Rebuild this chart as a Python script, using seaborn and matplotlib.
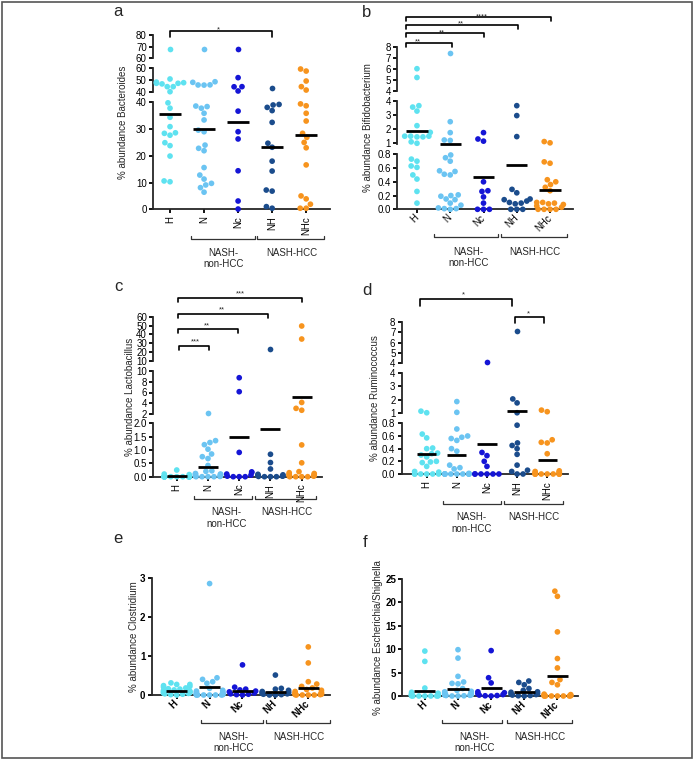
import numpy as np
import pandas as pd
import matplotlib
matplotlib.use("Agg")
import matplotlib.pyplot as plt
import seaborn as sns
from matplotlib.transforms import blended_transform_factory
from matplotlib.patches import Rectangle
import warnings

warnings.filterwarnings("ignore")

# -------------------------------
# DATA
# -------------------------------
groups = ["H", "N", "Nc", "NH", "NHc"]
colors = ["#5EE2F0", "#6BC4F2", "#1515D6", "#1B4C8C", "#F7941E"]

# a - Bacteroides
bac_H = [67.9, 51.1, 48.5, 47.5, 47.0, 47.5, 48.0, 44.7, 44.7, 40.5, 39.8, 37.8, 34.4,
         30.9, 28.4, 28.6, 27.7, 24.9, 23.8, 19.9, 10.3, 10.6]
bac_N = [67.9, 48.3, 48.8, 46.1, 46.0, 46.2, 38.6, 38.4, 37.8, 35.9, 33.4, 29.6, 29.0,
         24.0, 22.8, 21.9, 15.6, 12.8, 11.3, 9.7, 9.1, 8.1, 6.4]
bac_Nc = [68.3, 52.2, 44.7, 44.6, 41.1, 36.7, 29.0, 26.3, 14.4, 3.1, 0.1]
bac_NH = [43.3, 39.2, 39.0, 38.1, 36.9, 32.5, 24.7, 23.2, 18.0, 14.3, 6.8, 7.2, 1.0, 0.4]
bac_NHc = [59.4, 57.7, 49.4, 44.7, 41.9, 39.4, 38.7, 35.9, 33.0, 28.4, 26.9, 25.0, 23.0,
           16.6, 5.0, 3.9, 1.9, 0.4, 0.4]
bac_means = [35.6, 29.9, 32.7, 23.2, 27.9]

# b - Bifidobacterium
bif_H = [6.0, 5.2, 3.65, 3.55, 3.27, 2.24, 1.77, 1.5, 1.45, 1.5, 1.45, 1.5, 1.1, 1.0,
         0.73, 0.70, 0.63, 0.61, 0.50, 0.44, 0.26, 0.09]
bif_N = [7.4, 2.52, 1.75, 1.23, 1.2, 0.79, 0.75, 0.70, 0.56, 0.55, 0.51, 0.50, 0.21,
         0.20, 0.19, 0.15, 0.14, 0.09, 0.06, 0.02, 0.01, 0.01, 0.0]
bif_Nc = [1.75, 1.30, 1.15, 0.40, 0.27, 0.26, 0.18, 0.09, 0.0, 0.0, 0.0]
bif_NH = [3.65, 2.95, 1.47, 0.29, 0.24, 0.15, 0.14, 0.12, 0.10, 0.09, 0.08, 0.0, 0.0, 0.0]
bif_NHc = [1.12, 1.03, 0.69, 0.67, 0.43, 0.40, 0.36, 0.32, 0.27, 0.10, 0.10, 0.09, 0.08,
           0.07, 0.05, 0.03, 0.0, 0.0, 0.0, 0.0]
bif_means = [1.85, 0.95, 0.47, 0.64, 0.28]

# c - Lactobacillus
lac_H = [0.25, 0.10, 0.08, 0.0, 0.0, 0.0, 0.0, 0.0, 0.0, 0.0, 0.0, 0.0, 0.0, 0.0, 0.0,
         0.0, 0.0, 0.0, 0.0, 0.0, 0.0, 0.0]
lac_N = [2.25, 1.35, 1.28, 1.2, 1.03, 0.85, 0.75, 0.68, 0.42, 0.22, 0.2, 0.12, 0.1, 0.1,
         0.08, 0.05, 0.03, 0.02, 0.01, 0.0, 0.0, 0.0, 0.0]
lac_Nc = [8.75, 6.15, 0.91, 0.18, 0.16, 0.10, 0.06, 0.02, 0.0, 0.0, 0.0]
lac_NH = [23.2, 0.84, 0.53, 0.29, 0.09, 0.07, 0.05, 0.04, 0.03, 0.02, 0.01, 0.0, 0.0, 0.0]
lac_NHc = [49.5, 34.8, 4.15, 3.05, 2.7, 1.19, 0.52, 0.19, 0.15, 0.12, 0.10, 0.08, 0.06,
           0.04, 0.03, 0.02, 0.0, 0.0, 0.0, 0.0]
lac_means = [0.03, 0.37, 1.47, 1.78, 5.1]

# d - Ruminococcus
rum_H = [1.12, 1.0, 0.63, 0.57, 0.41, 0.40, 0.33, 0.32, 0.30, 0.27, 0.20, 0.19, 0.18,
         0.12, 0.04, 0.03, 0.0, 0.0, 0.0, 0.0, 0.0, 0.0]
rum_N = [1.85, 1.03, 0.71, 0.60, 0.58, 0.56, 0.53, 0.40, 0.36, 0.14, 0.10, 0.08, 0.01,
         0.0, 0.0, 0.0, 0.0, 0.0, 0.0, 0.0, 0.0, 0.0, 0.0]
rum_Nc = [4.15, 0.34, 0.29, 0.20, 0.12, 0.0, 0.0, 0.0, 0.0, 0.0, 0.0]
rum_NH = [7.1, 2.05, 1.75, 1.0, 0.77, 0.49, 0.45, 0.40, 0.31, 0.14, 0.06, 0.04, 0.0, 0.0]
rum_NHc = [1.2, 1.08, 0.54, 0.50, 0.49, 0.32, 0.05, 0.04, 0.03, 0.03, 0.02, 0.0, 0.0,
           0.0, 0.0, 0.0, 0.0, 0.0, 0.0, 0.0]
rum_means = [0.31, 0.30, 0.47, 1.12, 0.22]

# e - Clostridium
clo_H = [0.31, 0.27, 0.27, 0.24, 0.22, 0.20, 0.18, 0.16, 0.15, 0.13, 0.12, 0.10, 0.09,
         0.08, 0.07, 0.06, 0.05, 0.04, 0.03, 0.02, 0.01, 0.0]
clo_N = [2.85, 0.44, 0.40, 0.34, 0.30, 0.17, 0.12, 0.10, 0.08, 0.07, 0.05, 0.04, 0.03,
         0.02, 0.02, 0.01, 0.01, 0.0, 0.0, 0.0, 0.0, 0.0, 0.0]
clo_Nc = [0.77, 0.20, 0.15, 0.13, 0.10, 0.08, 0.05, 0.03, 0.02, 0.01, 0.0]
clo_NH = [0.51, 0.17, 0.15, 0.12, 0.09, 0.08, 0.06, 0.05, 0.04, 0.03, 0.02, 0.01, 0.0, 0.0]
clo_NHc = [1.23, 0.82, 0.34, 0.28, 0.22, 0.18, 0.14, 0.12, 0.09, 0.07, 0.05, 0.04, 0.03,
           0.02, 0.01, 0.01, 0.0, 0.0, 0.0, 0.0]
clo_means = [0.09, 0.21, 0.11, 0.07, 0.19]

# f - Escherichia/Shighella
esc_H = [9.6, 7.4, 1.7, 0.8, 0.6, 0.5, 0.4, 0.35, 0.3, 0.25, 0.2, 0.2, 0.15, 0.1, 0.1,
         0.05, 0.05, 0.0, 0.0, 0.0, 0.0, 0.0]
esc_N = [9.9, 8.1, 4.2, 3.0, 2.7, 2.6, 1.6, 1.2, 1.0, 0.9, 0.8, 0.7, 0.6, 0.5, 0.4, 0.3,
         0.25, 0.2, 0.15, 0.1, 0.05, 0.0, 0.0]
esc_Nc = [9.7, 3.9, 2.8, 0.9, 0.7, 0.5, 0.3, 0.2, 0.1, 0.05, 0.0]
esc_NH = [3.2, 2.9, 2.4, 1.6, 1.2, 0.9, 0.8, 0.5, 0.4, 0.3, 0.2, 0.1, 0.05, 0.0]
esc_NHc = [22.4, 21.3, 13.7, 8.0, 6.0, 3.5, 2.9, 2.4, 0.4, 0.3, 0.2, 0.15, 0.1, 0.05,
           0.0, 0.0, 0.0, 0.0, 0.0, 0.0]
esc_means = [1.1, 1.5, 1.7, 0.75, 4.34]

# -------------------------------
# LAYOUT (pixel units)
# -------------------------------
W, H = 694, 760
sns.set_theme(style="ticks")
plt.rcParams["font.family"] = ["Liberation Sans", "DejaVu Sans"]
plt.rcParams["axes.linewidth"] = 1.3

palette = dict(zip(groups, colors))
fig = plt.figure(figsize=(W / 100, H / 100), dpi=100)


def fy(py):
    return 1 - py / H


def px_rect(x0, x1, ytop, ybot):
    return [x0 / W, 1 - ybot / H, (x1 - x0) / W, (ybot - ytop) / H]


def seg_of(v, segs):
    k = 0
    for i in range(1, len(segs)):
        if v > segs[i - 1][3]:
            k = i
    return k


def draw_panel(values, means, x0, x1, xlim, segs, rot, bold):
    df = pd.concat([pd.DataFrame({"group": g, "value": v}) for g, v in zip(groups, values)],
                   ignore_index=True)
    idx = np.array([seg_of(v, segs) for v in df["value"]])
    weight = "bold" if bold else "normal"
    axes = []
    for k, (ytop, ybot, lo, hi, ticks, labels) in enumerate(segs):
        ax = fig.add_axes(px_rect(x0, x1, ytop, ybot))
        sub = df[idx == k]
        sns.swarmplot(data=sub, x="group", y="value", hue="group", order=groups,
                      hue_order=groups, palette=palette, size=4.1, legend=False,
                      clip_on=False, zorder=3, ax=ax)
        for i, m in enumerate(means):
            if seg_of(m, segs) == k:
                ax.hlines(m, i - 0.32, i + 0.32, colors="black", lw=2.0, zorder=5,
                          clip_on=False)
        ax.set_xlim(xlim)
        ax.set_ylim(lo, hi)
        ax.set_yticks(ticks)
        ax.set_yticklabels(labels, fontsize=7, fontweight=weight)
        ax.set_xlabel("")
        ax.set_ylabel("")
        ax.patch.set_visible(False)
        ax.tick_params(axis="y", length=3, width=1.3, pad=1.5, colors="black")
        sns.despine(ax=ax, bottom=(k > 0))
        if k > 0:
            ax.tick_params(axis="x", bottom=False, labelbottom=False)
        else:
            ax.set_xticks(range(len(groups)))
            if rot == 90:
                ax.set_xticklabels(groups, rotation=90, fontsize=7, fontweight=weight)
            else:
                ax.set_xticklabels(groups, rotation=45, ha="right", va="center",
                                   rotation_mode="anchor", fontsize=7, fontweight=weight)
            ax.tick_params(axis="x", length=3, width=1.3, pad=2, colors="black")
        axes.append(ax)
    return axes[0]


def sig(ax, xa, xb, py, drop, label, tx, ty):
    tr = blended_transform_factory(ax.transData, fig.transFigure)
    ax.plot([xa, xa, xb, xb], [fy(py + drop), fy(py), fy(py), fy(py + drop)],
            color="black", lw=1.2, transform=tr, clip_on=False)
    ax.text(tx, fy(ty + 4), label, transform=tr, ha="center", va="baseline", fontsize=5.5)


def grouping(ax, spans, py, label_x, ly1, ly2):
    tr = blended_transform_factory(ax.transData, fig.transFigure)
    for xa, xb in spans:
        ax.plot([xa, xa, xb, xb], [fy(py - 3), fy(py), fy(py), fy(py - 3)],
                color="#333333", lw=0.9, transform=tr, clip_on=False)
    ax.text(label_x[0], fy(ly1), "NASH-", transform=tr, ha="center", va="center", fontsize=7)
    ax.text(label_x[0], fy(ly2), "non-HCC", transform=tr, ha="center", va="center", fontsize=7)
    ax.text(label_x[1], fy(ly1), "NASH-HCC", transform=tr, ha="center", va="center", fontsize=7)


# a
ax = draw_panel([bac_H, bac_N, bac_Nc, bac_NH, bac_NHc], bac_means, 153, 330, (-0.5, 4.7),
                [(102.3, 209.3, 0, 40, [0, 10, 20, 30, 40], ["0", "10", "20", "30", "40"]),
                 (68.3, 92.3, 40, 60, [40, 50, 60], ["40", "50", "60"]),
                 (35, 58.3, 60, 80, [60, 70, 80], ["60", "70", "80"])], 90, False)
sig(ax, 0, 3, 31, 6, "*", 1.42, 27.7)
grouping(ax, [(0.61, 2.5), (2.57, 4.53)], 239.3, (1.57, 3.58), 252.5, 264.5)

# b
ax = draw_panel([bif_H, bif_N, bif_Nc, bif_NH, bif_NHc], bif_means, 397, 573, (-0.6, 4.69),
                [(154.3, 209.3, 0, 0.8, [0, 0.2, 0.4, 0.6, 0.8], ["0.0", "0.2", "0.4", "0.6", "0.8"]),
                 (100.7, 144.4, 0.92, 4, [1, 2, 3, 4], ["1", "2", "3", "4"]),
                 (46.7, 90.7, 4, 8, [4, 5, 6, 7, 8], ["4", "5", "6", "7", "8"])], 45, False)
sig(ax, -0.33, 1.04, 43.3, 4, "**", 0.04, 39.3)
sig(ax, -0.33, 2.0, 33.3, 4, "**", 0.74, 30)
sig(ax, -0.33, 3.05, 25, 4, "**", 1.32, 21.7)
sig(ax, -0.33, 4.02, 17.3, 4, "****", 1.95, 14)
grouping(ax, [(0.52, 2.43), (2.53, 4.5)], 237.3, (1.54, 3.55), 251.7, 263.3)

# c
ax = draw_panel([lac_H, lac_N, lac_Nc, lac_NH, lac_NHc], lac_means, 153.3, 321.7, (-0.75, 4.64),
                [(423.3, 476.7, 0, 2, [0, 0.5, 1, 1.5, 2], ["0.0", "0.5", "1.0", "1.5", "2.0"]),
                 (371, 414, 2, 10, [2, 4, 6, 8, 10], ["2", "4", "6", "8", "10"]),
                 (316.7, 361, 10, 60, [10, 20, 30, 40, 50, 60],
                  ["10", "20", "30", "40", "50", "60"])], 90, False)
sig(ax, 0.05, 4.0, 298.3, 4, "***", 2.03, 291.5)
sig(ax, 0.05, 2.93, 314.3, 4, "**", 1.44, 307.7)
sig(ax, 0.05, 1.97, 329.3, 4, "**", 0.96, 323.5)
sig(ax, 0.08, 1.03, 346, 4, "***", 0.59, 339)
grouping(ax, [(0.55, 2.42), (2.51, 4.46)], 499, (1.6, 3.52), 512.3, 524)

# d
ax = draw_panel([rum_H, rum_N, rum_Nc, rum_NH, rum_NHc], rum_means, 401.7, 567.7, (-0.83, 4.68),
                [(423.3, 474, 0, 0.8, [0, 0.2, 0.4, 0.6, 0.8], ["0.0", "0.2", "0.4", "0.6", "0.8"]),
                 (373.3, 413.4, 0.95, 4, [1, 2, 3, 4], ["1", "2", "3", "4"]),
                 (321.7, 363.3, 4, 8, [4, 5, 6, 7, 8], ["4", "5", "6", "7", "8"])], 90, False)
sig(ax, -0.22, 2.84, 299.3, 7, "*", 1.21, 292.7)
sig(ax, 2.93, 3.89, 316.7, 6, "*", 3.39, 311.7)
grouping(ax, [(0.53, 2.45), (2.56, 4.53)], 504, (1.48, 3.56), 517.3, 529.3)

# e
ax = draw_panel([clo_H, clo_N, clo_Nc, clo_NH, clo_NHc], clo_means, 151.7, 330, (-0.76, 4.66),
                [(577.7, 695, 0, 3, [0, 1, 2, 3], ["0", "1", "2", "3"])], 45, True)
grouping(ax, [(0.74, 2.63), (2.71, 4.66)], 722.7, (1.72, 3.72), 736.7, 748.3)

# f
ax = draw_panel([esc_H, esc_N, esc_Nc, esc_NH, esc_NHc], esc_means, 402.3, 578.3, (-0.68, 4.63),
                [(579, 696, 0, 25, [0, 5, 10, 15, 20, 25], ["0", "5", "10", "15", "20", "25"])],
                45, True)
grouping(ax, [(0.52, 2.33), (2.48, 4.43)], 722.7, (1.49, 3.48), 736.7, 748.3)

# y labels and panel letters
ylabels = ["% abundance Bacteroides", "% abundance Bifidobacterium",
           "% abundance Lactobacillus", "% abundance Ruminococcus",
           "% abundance Clostridium", "% abundance Escherichia/Shighella"]
ylabel_pos = [(123, 122), (368, 128), (130, 396.7), (375, 397.8), (134, 636.5), (378.3, 637.5)]
for txt, (lx, ly) in zip(ylabels, ylabel_pos):
    fig.text(lx / W, fy(ly), txt, rotation=90, ha="center", va="center", fontsize=7)

letters = ["a", "b", "c", "d", "e", "f"]
letter_pos = [(118, 16), (366.7, 16.7), (118.3, 290.7), (366.7, 295), (118.3, 543.3), (365, 547.3)]
for txt, (lx, ly) in zip(letters, letter_pos):
    fig.text(lx / W, fy(ly), txt, ha="center", va="baseline", fontsize=12)

fig.add_artist(Rectangle((2 / W, 2 / H), (W - 4) / W, (H - 4) / H, transform=fig.transFigure,
                         fill=False, edgecolor="#555555", lw=1.2))

fig.savefig("out.png", dpi=100)
